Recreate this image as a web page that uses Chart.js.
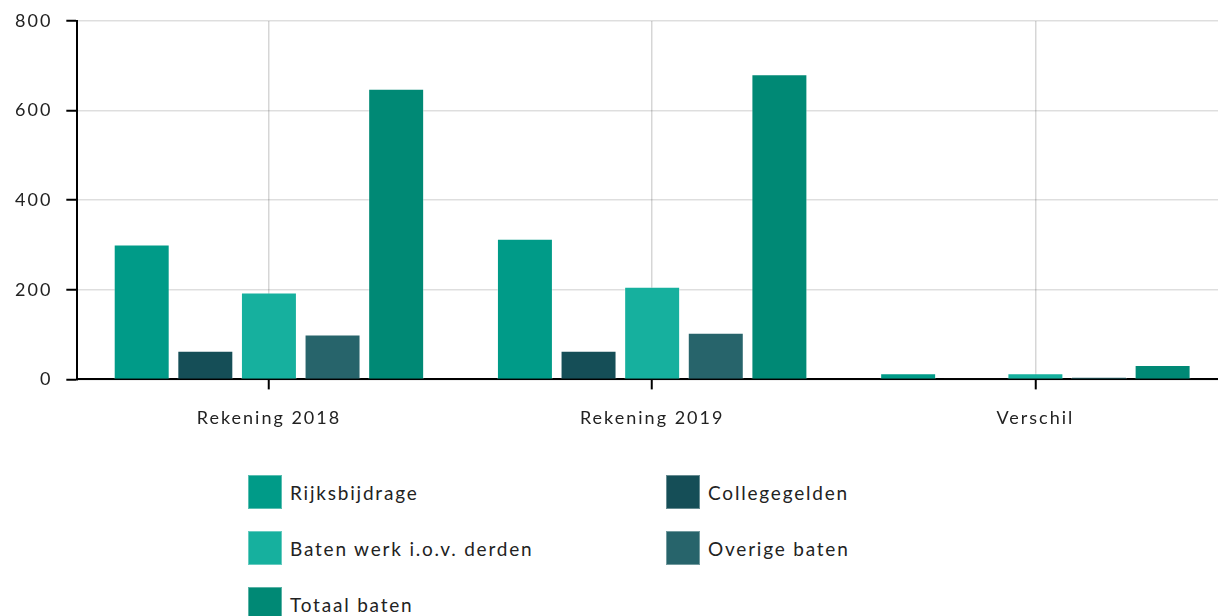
<!DOCTYPE html>
<html>
<head>
<meta charset="utf-8">
<script src="https://cdn.jsdelivr.net/npm/chart.js@4/dist/chart.umd.min.js"></script>
<style>
  html, body { margin: 0; padding: 0; background: #fff; overflow: hidden; width: 1218px; height: 616px; }
  #wrap { position: relative; width: 1227px; height: 616px; }
  #chartBox { position: absolute; left: 0; top: 0; width: 1227px; height: 449px; }
  .leg { position: absolute; display: flex; align-items: center; font-family: Lato, "Open Sans", sans-serif; font-size: 19px; letter-spacing: 1.8px; color: #222; white-space: nowrap; }
  .leg .box { width: 34px; height: 34px; margin-right: 8px; box-sizing: border-box; border: 1px solid rgba(255,255,255,0.35); }
</style>
</head>
<body>
<div id="wrap">
  <div id="chartBox"><canvas id="c"></canvas></div>
  <div id="legend"></div>
</div>
<script>
const categories = ["Rekening 2018", "Rekening 2019", "Verschil"];
const seriesNames = ["Rijksbijdrage", "Collegegelden", "Baten werk i.o.v. derden", "Overige baten", "Totaal baten"];
const rijksbijdrage = [301, 314, 14];
const collegegelden = [64, 64, 1];
const batenWerk = [194, 207, 14];
const overigeBaten = [100, 104, 6];
const totaalBaten = [649, 681, 32];
const yTicks = [0, 200, 400, 600, 800];
const colors = ["#009B88", "#154E57", "#16B09E", "#27646B", "#008975"];

const seriesData = [rijksbijdrage, collegegelden, batenWerk, overigeBaten, totaalBaten];
const FONT = "Lato, 'Open Sans', sans-serif";

const spacingPlugin = {
  id: 'spacing',
  beforeUpdate(chart) { chart.ctx.letterSpacing = '2px'; },
  beforeLayout(chart) { chart.ctx.letterSpacing = '2px'; },
  beforeDraw(chart) { chart.ctx.letterSpacing = '2px'; }
};

new Chart(document.getElementById('c'), {
  type: 'bar',
  plugins: [spacingPlugin],
  data: {
    labels: categories,
    datasets: seriesNames.map((n, i) => ({
      label: n,
      data: seriesData[i],
      backgroundColor: colors[i],
      borderColor: 'rgba(255,255,255,0.35)',
      borderWidth: 1,
      categoryPercentage: 0.83,
      barPercentage: 0.88
    }))
  },
  options: {
    responsive: true,
    maintainAspectRatio: false,
    animation: false,
    layout: { padding: { top: 21, left: 1, right: 0, bottom: 2 } },
    plugins: { legend: { display: false }, tooltip: { enabled: false } },
    scales: {
      x: {
        grid: { offset: false, color: 'rgba(0,0,0,0.16)', lineWidth: 1.5, tickColor: '#000', tickWidth: 2, tickLength: 10 },
        border: { color: '#000', width: 2 },
        ticks: { color: '#222', font: { family: FONT, size: 18 }, padding: 18 }
      },
      y: {
        min: 0, max: 800,
        afterBuildTicks: (s) => { s.ticks = yTicks.map(v => ({ value: v })); },
        afterFit: (s) => { s.paddingTop = 0; },
        grid: { color: 'rgba(0,0,0,0.13)', lineWidth: 1.5, tickColor: '#000', tickWidth: 2, tickLength: 11 },
        border: { color: '#000', width: 2 },
        ticks: { color: '#222', font: { family: FONT, size: 18 }, padding: 14 }
      }
    }
  }
});

const legendPos = [[248, 475], [666, 475], [248, 531], [666, 531], [248, 587]];
const legEl = document.getElementById('legend');
seriesNames.forEach((n, i) => {
  const d = document.createElement('div');
  d.className = 'leg';
  d.style.left = legendPos[i][0] + 'px';
  d.style.top = legendPos[i][1] + 'px';
  const b = document.createElement('span');
  b.className = 'box';
  b.style.background = colors[i];
  const t = document.createElement('span');
  t.textContent = n;
  d.appendChild(b); d.appendChild(t);
  legEl.appendChild(d);
});
</script>
</body>
</html>
